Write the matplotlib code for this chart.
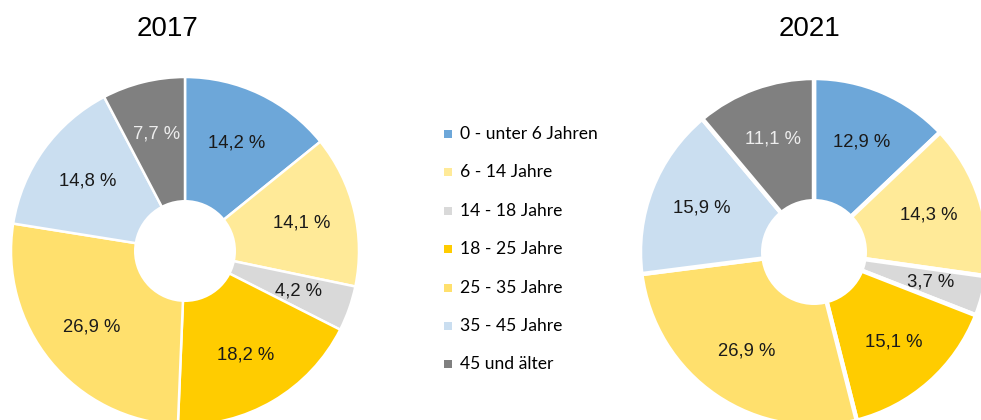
import matplotlib
matplotlib.use("Agg")
import matplotlib.pyplot as plt
import matplotlib.patches as mpatches

W, H = 981, 420

# ── Daten ──
categories = ["0 - unter 6 Jahren", "6 - 14 Jahre", "14 - 18 Jahre", "18 - 25 Jahre",
              "25 - 35 Jahre", "35 - 45 Jahre", "45 und älter"]
values_2017 = [14.2, 14.1, 4.2, 18.2, 26.9, 14.8, 7.7]
values_2021 = [12.9, 14.3, 3.7, 15.1, 26.9, 15.9, 11.1]
years = ["2017", "2021"]

# ── Farben ──
COLORS = ["#6DA7D9", "#FFEA98", "#D9D9D9", "#FFCC00", "#FFE06D", "#CADEF0", "#808080"]

LABEL_FONT = ["Liberation Sans", "DejaVu Sans"]
LEGEND_FONT = ["Lato", "DejaVu Sans"]


def fmt(p):
    return f"{p:.1f} %".replace(".", ",")


def draw_donut(ax, values, center, radius, hole, title, title_x, edge_lw):
    wedges, texts, autotexts = ax.pie(
        values, colors=COLORS, startangle=90, counterclock=False,
        center=center, radius=radius, autopct=fmt, pctdistance=0.69,
        wedgeprops=dict(edgecolor="white", linewidth=edge_lw),
        textprops=dict(fontsize=13.3, family=LABEL_FONT, color="#1a1a1a"),
    )
    autotexts[-1].set_color("#EDEDED")
    ax.add_patch(mpatches.Circle(center, hole, facecolor="white", edgecolor="none", zorder=5))
    ax.text(title_x, H - 29, title, ha="center", va="center", fontsize=20,
            family=LABEL_FONT, color="black")


fig = plt.figure(figsize=(W / 100, H / 100), dpi=100)
ax = fig.add_axes([0, 0, 1, 1])

draw_donut(ax, values_2017, (185, H - 251), 174, 51, years[0], 167, 1.8)
draw_donut(ax, values_2021, (814, H - 252), 174, 53, years[1], 810, 3.2)

# ── Legende ──
for i, (cat, col) in enumerate(zip(categories, COLORS)):
    y = H - (134 + i * 38.4)
    ax.add_patch(mpatches.Rectangle((444, y - 4), 8, 8, facecolor=col, edgecolor="none"))
    ax.text(460, y, cat, ha="left", va="center", fontsize=12.6,
            family=LEGEND_FONT, color="black")

# pie() setzt die Grenzen neu -> danach festlegen
ax.set_xlim(0, W)
ax.set_ylim(0, H)
ax.set_aspect("equal")
ax.axis("off")

fig.savefig("out.png", dpi=100, facecolor="white")
